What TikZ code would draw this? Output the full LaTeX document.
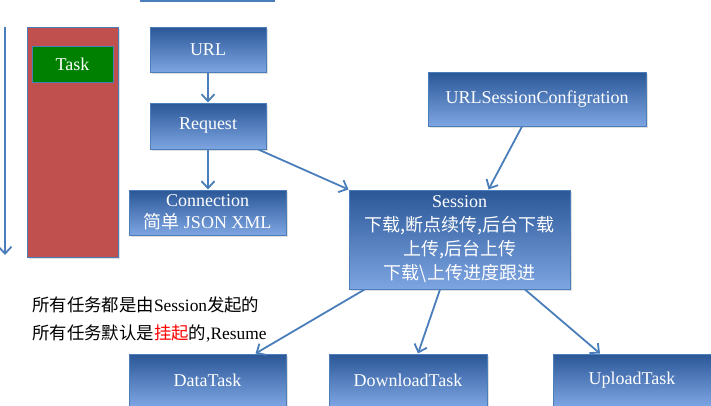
\documentclass[tikz,border=0pt]{standalone}
\usepackage{fontspec}
\setmainfont{Liberation Serif}
\newfontfamily\cjk{Noto Sans CJK SC}
\usetikzlibrary{arrows.meta,shadows}
\definecolor{boxtop}{HTML}{2B5797}
\definecolor{boxbot}{HTML}{7DA5E2}
\definecolor{boxline}{HTML}{4A7EBB}
\definecolor{taskred}{HTML}{C0504D}
\definecolor{taskgreen}{HTML}{008000}
\tikzset{
  box/.style={draw=boxline, line width=1pt, top color=boxtop, bottom color=boxbot,
    text=white, inner sep=0pt, align=center, font=\fontsize{18}{22}\selectfont,
    drop shadow={opacity=.25, shadow xshift=1.5pt, shadow yshift=-2pt}},
  link/.style={draw=boxline, line width=1.8pt, -{Straight Barb[length=7pt,width=13pt,line width=1.8pt]}}
}
\begin{document}
\begin{tikzpicture}[x=1pt,y=-1pt]
\useasboundingbox (0,0) rectangle (711,405);
\draw[boxline, line width=2.5pt] (140,1) -- (275,1);
\coordinate (timetop) at (5,27);
\coordinate (timebot) at (5,255);
\draw[link] (timetop) -- (timebot);
\node[fill=taskred, draw=boxline, minimum width=91pt, minimum height=230pt, inner sep=0pt,
  drop shadow={opacity=.25, shadow xshift=1.5pt, shadow yshift=-2pt}] (tasklist) at (72.5,142) {};
\node[fill=taskgreen, draw=boxline, text=white, minimum width=81pt, minimum height=36pt,
  inner sep=0pt, font=\fontsize{18}{22}\selectfont] (task) at (72.5,64) {Task};
\node[box, minimum width=116pt, minimum height=45pt] (url) at (208,49.5) {URL};
\node[box, minimum width=116pt, minimum height=46pt] (request) at (208,126) {Request};
\node[box, minimum width=157pt, minimum height=45pt] (conn) at (207.5,212.5) {Connection\\{\cjk 简单} JSON XML};
\node[box, minimum width=218pt, minimum height=54pt] (config) at (537,99) {URLSessionConfigration};
\node[box, minimum width=221pt, minimum height=99pt, font=\fontsize{18}{24}\selectfont] (session) at (459.5,239.5)
  {Session\\{\cjk 下载,断点续传,后台下载}\\{\cjk 上传,后台上传}\\{\cjk 下载\textbackslash 上传进度跟进}};
\node[box, minimum width=157pt, minimum height=52pt] (datatask) at (207.5,380) {DataTask};
\node[box, minimum width=158pt, minimum height=52pt] (downloadtask) at (408,380) {DownloadTask};
\node[box, minimum width=158pt, minimum height=52pt] (uploadtask) at (632,380) {UploadTask};
\node[anchor=west, align=left, inner sep=0pt, font=\fontsize{17.4}{28}\selectfont] (notes) at (32,319)
  {{\cjk 所有任务都是由}Session{\cjk 发起的}\\{\cjk 所有任务默认是\textcolor{red}{挂起}的},Resume};
\draw[link] (url) -- (request);
\draw[link] (request) -- (request |- conn.north);
\draw[link] (request.-25) -- (session.north west);
\draw[link] ([xshift=-15pt]config.south) -- ([xshift=29pt]session.north);
\draw[link] ([xshift=16pt]session.south west) -- ([xshift=-31pt]datatask.north east);
\draw[link] ([xshift=-19.5pt]session.south) -- ([xshift=10pt]downloadtask.north);
\draw[link] ([xshift=65.5pt]session.south) -- ([xshift=-32pt]uploadtask.north);
\end{tikzpicture}
\end{document}
